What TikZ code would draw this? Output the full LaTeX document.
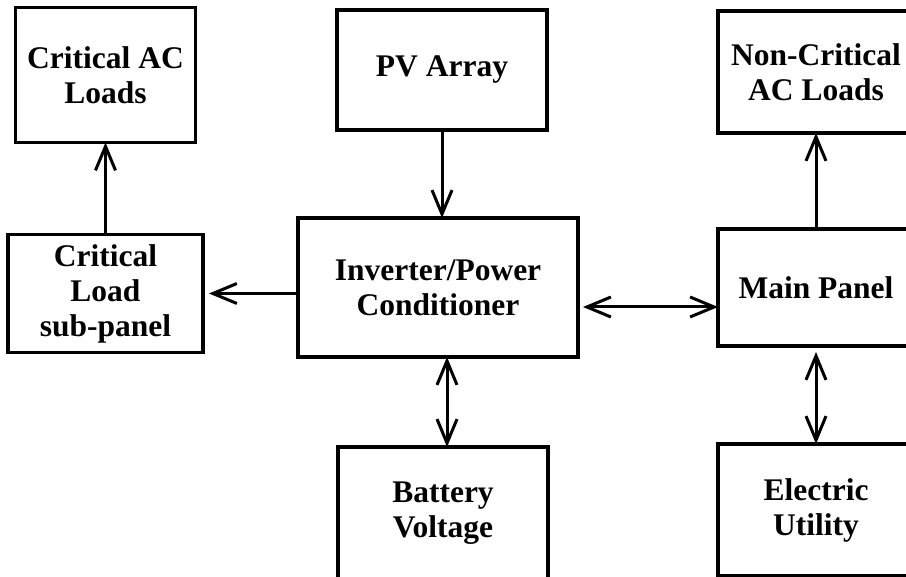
\documentclass[tikz,border=0pt]{standalone}
\usepackage{fontspec}
\setmainfont{Liberation Serif}
\usetikzlibrary{arrows.meta,positioning,calc}
\tikzset{
  block/.style = {rectangle, draw=black, line width=3.5pt, fill=white,
                  align=center, inner sep=2pt, outer sep=0pt,
                  font=\fontsize{31.5}{35}\selectfont\bfseries},
  arr/.style   = {-{Straight Barb[length=24pt,width=20pt]}, line width=3pt},
  biarr/.style = {{Straight Barb[length=24pt,width=20pt]}-{Straight Barb[length=24pt,width=20pt]},
                  line width=3pt},
}

\begin{document}
\begin{tikzpicture}[x=1pt, y=-1pt]
\useasboundingbox (0,0) rectangle (906,577);

%% Centre column
\node[block, minimum width=280pt, minimum height=139pt] (inv) at (438,287.5)
      {Inverter/Power\\Conditioner};
\node[block, minimum width=210pt, minimum height=120pt, above=88pt of inv, xshift=4pt]
                                         (pv)       {PV Array};
\node[block, minimum width=210pt, minimum height=133pt, below=90pt of inv, xshift=5pt]
                                         (batt)     {Battery\\Voltage};

%% Left column
\node[block, minimum width=195pt, minimum height=118pt, left=95pt of inv, yshift=-6pt]
                                         (subpanel) {Critical\\Load\\sub-panel};
\node[block, minimum width=180pt, minimum height=135pt, above=92pt of subpanel]
                                         (crit_ac)  {Critical AC\\Loads};

%% Right column
\node[block, minimum width=196pt, minimum height=117pt, right=140pt of inv]
                                         (main)     {Main Panel};
\node[block, minimum width=196pt, minimum height=122pt, above=96pt of main]
                                         (noncrit)  {Non-Critical\\AC Loads};
\node[block, minimum width=196pt, minimum height=132pt, below=98pt of main]
                                         (util)     {Electric\\Utility};

%% Arrows
\coordinate (inv_r)  at ($(inv.east)+(0,19.5)$);
\coordinate (batt_t) at ($(batt.north)+(4,0)$);
\draw[arr]   (subpanel) -- (subpanel |- crit_ac.south);
\draw[arr]   (pv) -- (pv |- inv.north);
\draw[arr, shorten >=6pt] (inv.west |- subpanel.east) -- (subpanel.east);
\draw[biarr, shorten <=5pt] (inv_r) -- (inv_r -| main.west);
\draw[biarr] (batt_t) -- (batt_t |- inv.south);
\draw[arr]   (main) -- (noncrit);
\draw[biarr, shorten <=6pt] (main) -- (util);

\end{tikzpicture}
\end{document}
